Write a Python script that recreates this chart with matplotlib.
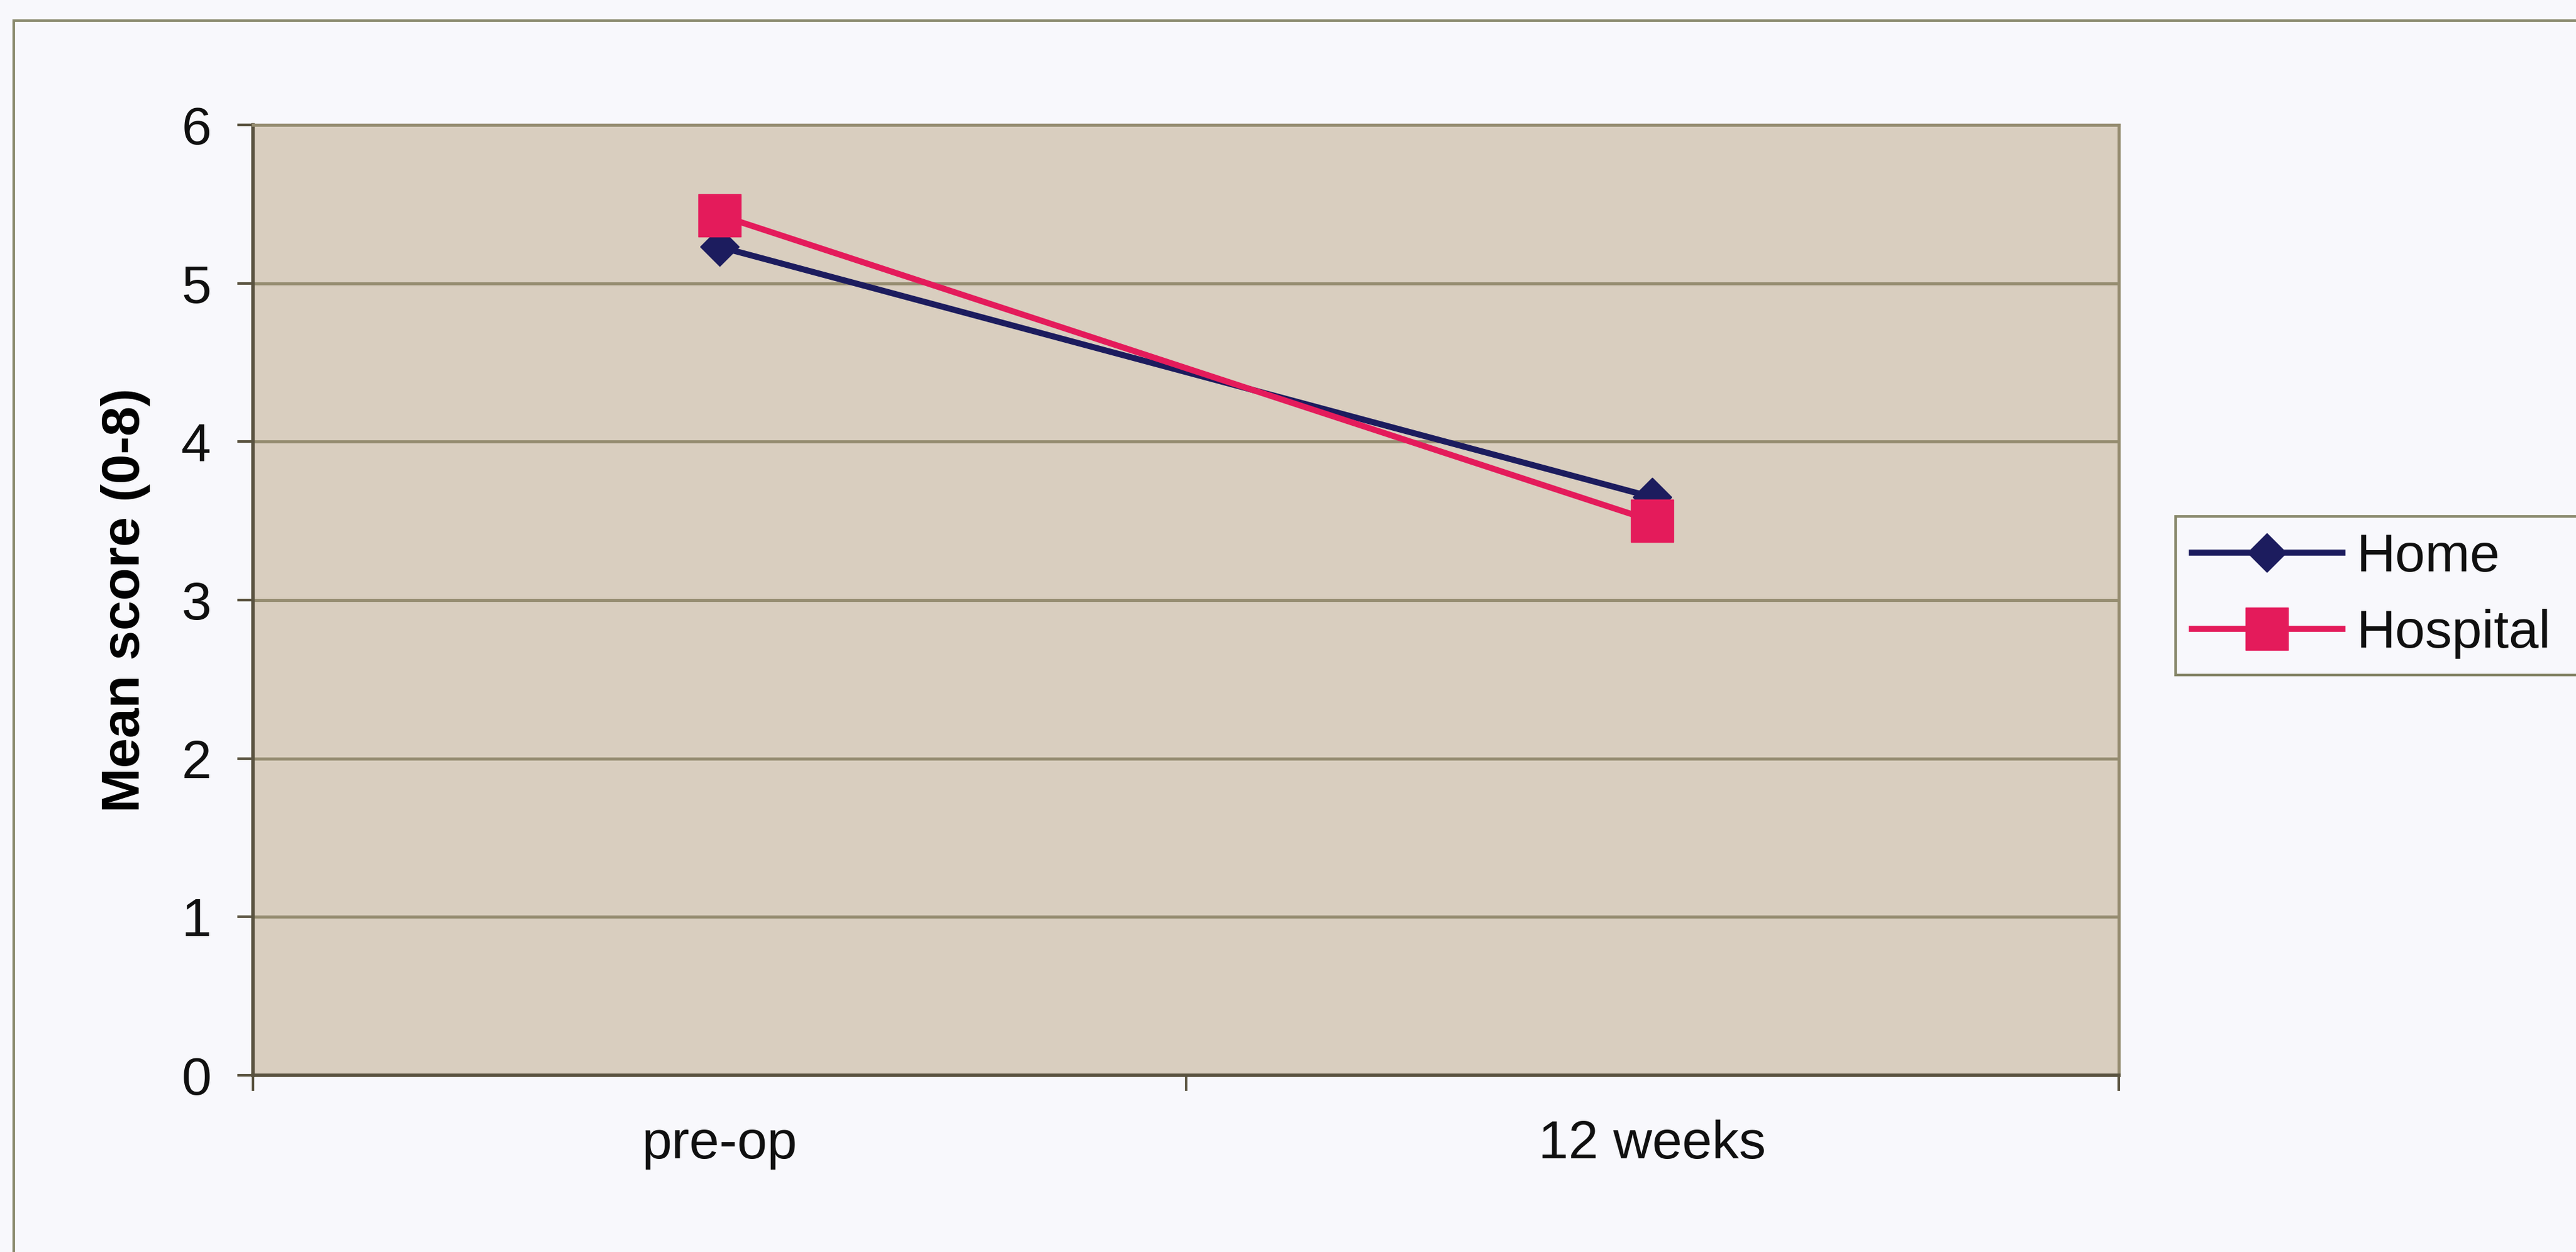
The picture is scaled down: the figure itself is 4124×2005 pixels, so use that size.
import matplotlib

matplotlib.use("Agg")
import matplotlib.pyplot as plt
from matplotlib.patches import Rectangle


TIMEPOINTS = ["pre-op", "12 weeks"]
HOME_SCORES = [5.23, 3.65]
HOSPITAL_SCORES = [5.43, 3.50]
Y_TICKS = [0, 1, 2, 3, 4, 5, 6]

PAGE_BG = "#f8f8fc"
PLOT_BG = "#d9cebf"
GRID_COLOR = "#958c70"
AXIS_COLOR = "#5a5340"
FRAME_COLOR = "#87876a"
HOME_COLOR = "#1c1c5e"
HOSPITAL_COLOR = "#e41b5b"

plt.rcParams["font.family"] = ["Liberation Sans", "DejaVu Sans"]
plt.rcParams["text.color"] = "#101010"
plt.rcParams["xtick.labelcolor"] = "#101010"
plt.rcParams["ytick.labelcolor"] = "#101010"

W, H = 4124, 2005


def main():
    fig = plt.figure(figsize=(W / 100, H / 100), dpi=100, facecolor=PAGE_BG)

    # chart area border, runs off the right and bottom edges
    fig.add_artist(Rectangle((22 / W, -0.05), (4300 - 22) / W, 1 - 33 / H + 0.05,
                             transform=fig.transFigure, fill=False,
                             edgecolor=FRAME_COLOR, linewidth=3))

    ax = fig.add_axes([405 / W, 1 - 1722 / H, (3392 - 405) / W, (1722 - 200) / H])
    ax.set_facecolor(PLOT_BG)

    positions = [i + 0.5 for i in range(len(TIMEPOINTS))]
    ax.plot(positions, HOME_SCORES, color=HOME_COLOR, linewidth=7,
            marker="D", markersize=32, markeredgecolor=HOME_COLOR,
            label="Home", zorder=3)
    ax.plot(positions, HOSPITAL_SCORES, color=HOSPITAL_COLOR, linewidth=7,
            marker="s", markersize=49, markeredgecolor=HOSPITAL_COLOR,
            label="Hospital", zorder=4)

    ax.set_xlim(0, len(TIMEPOINTS))
    ax.set_ylim(0, 6)
    ax.set_yticks(Y_TICKS)
    ax.set_xticks(range(len(TIMEPOINTS) + 1))
    ax.set_xticklabels([])
    ax.set_xticks(positions, minor=True)
    ax.set_xticklabels(TIMEPOINTS, minor=True)

    ax.yaxis.grid(True, color=GRID_COLOR, linewidth=3.5)
    ax.set_axisbelow(True)
    for side in ["left", "bottom"]:
        ax.spines[side].set_color(AXIS_COLOR)
        ax.spines[side].set_linewidth(4)
    for side in ["top", "right"]:
        ax.spines[side].set_color(GRID_COLOR)
        ax.spines[side].set_linewidth(3.5)

    ax.tick_params(axis="both", which="major", direction="out", length=18,
                   width=3, color=AXIS_COLOR, labelsize=62, pad=30)
    ax.tick_params(axis="x", which="minor", length=0, labelsize=62, pad=51)

    ax.set_ylabel("Mean score (0-8)", fontsize=62, fontweight="bold")
    ax.yaxis.set_label_coords(-0.055, 0.5)

    fig.legend(loc="upper left", bbox_to_anchor=(3483 / W, 1 - 827 / H, 900 / W, 0.0),
               mode="expand", fontsize=62, handlelength=2.8, handletextpad=0.27,
               labelspacing=0.49, borderpad=0.3, borderaxespad=0,
               fancybox=False, framealpha=1, facecolor=PAGE_BG,
               edgecolor=FRAME_COLOR).get_frame().set_linewidth(3)

    fig.savefig("out.png", dpi=100, facecolor=PAGE_BG)


if __name__ == "__main__":
    main()
